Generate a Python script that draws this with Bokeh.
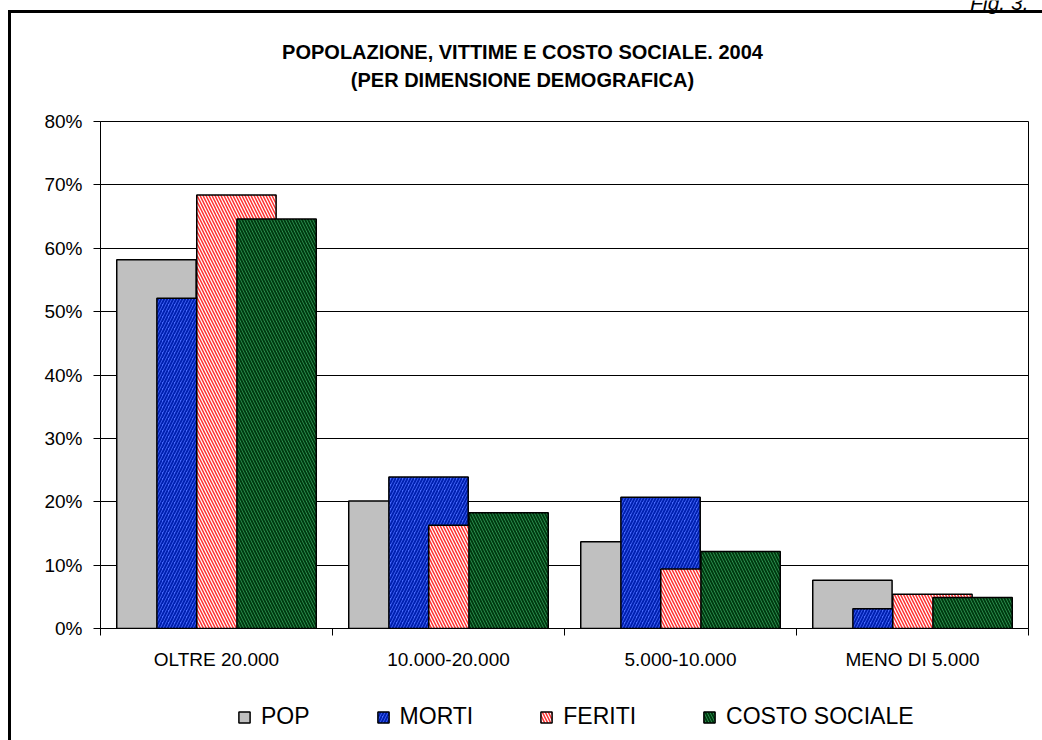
import numpy as np
from bokeh.plotting import figure
from bokeh.layouts import column
from bokeh.models import (FixedTicker, NumeralTickFormatter, Range1d, Label,
                          Legend, LegendItem)
from bokeh.embed import file_html
from bokeh.resources import INLINE

# ---- data ----
categories = ["OLTRE 20.000", "10.000-20.000", "5.000-10.000", "MENO DI 5.000"]
series_names = ["POP", "MORTI", "FERITI", "COSTO SOCIALE"]
pop = [0.582, 0.201, 0.137, 0.076]
morti = [0.521, 0.239, 0.207, 0.031]
feriti = [0.684, 0.163, 0.094, 0.054]
costo_sociale = [0.646, 0.1825, 0.1215, 0.049]
y_ticks = [0.0, 0.1, 0.2, 0.3, 0.4, 0.5, 0.6, 0.7, 0.8]
title_lines = ["POPOLAZIONE, VITTIME E COSTO SOCIALE. 2004",
               "(PER DIMENSIONE DEMOGRAFICA)"]
fig_label = "Fig. 3."

FONT = "Liberation Sans"
W = 1042
TOP_H, MAIN_H, LEG_H = 100, 574, 66
FRAME_LEFT = 100   # frames of the stacked figures are aligned on this x

styles = [
    dict(fill_color="#c0c0c0"),
    dict(fill_color="#4a6cff", hatch_pattern="right_diagonal_line",
         hatch_color="#0020b0", hatch_scale=6, hatch_weight=2),
    dict(fill_color="white", hatch_pattern="left_diagonal_line",
         hatch_color="#ff3030", hatch_scale=6, hatch_weight=1.5),
    dict(fill_color="#35a05c", hatch_pattern="left_diagonal_line",
         hatch_color="#003a10", hatch_scale=6, hatch_weight=2),
]
offsets = [-0.259, -0.086, 0.086, 0.259]
bar_w = 0.342
centers = np.arange(len(categories)) + 0.5
all_series = [pop, morti, feriti, costo_sociale]


def bare(height, xr, yr):
    f = figure(width=W, height=height, x_range=xr, y_range=yr,
               output_backend="svg", toolbar_location=None, title=None,
               x_axis_type=None, y_axis_type=None, min_border=0)
    f.min_border_left = f.min_border_right = 0
    f.min_border_top = f.min_border_bottom = 0
    f.background_fill_color = None
    f.border_fill_color = None
    f.outline_line_color = None
    return f


# ---------- top strip: figure label and two-line title ----------
top = bare(TOP_H, Range1d(0, W), Range1d(0, TOP_H))
top.add_layout(Label(x=1028 - FRAME_LEFT, y=TOP_H - 2, x_units="screen",
                     y_units="screen", text=fig_label, text_align="right",
                     text_baseline="alphabetic", text_color="black",
                     text_font=FONT, text_font_size="21px", text_font_style="italic"))
top.add_layout(Label(x=522 - FRAME_LEFT, y=TOP_H - 51, x_units="screen",
                     y_units="screen", text=title_lines[0], text_align="center",
                     text_baseline="alphabetic", text_font=FONT, text_color="black",
                     text_font_size="20px", text_font_style="bold"))
top.add_layout(Label(x=522 - FRAME_LEFT, y=TOP_H - 79, x_units="screen",
                     y_units="screen", text=title_lines[1], text_align="center",
                     text_baseline="alphabetic", text_font=FONT, text_color="black",
                     text_font_size="20px", text_font_style="bold"))

# ---------- main chart ----------
p = figure(width=W, height=MAIN_H, x_range=Range1d(0, len(categories)),
           y_range=Range1d(0, 0.8), output_backend="svg", toolbar_location=None,
           title=None, min_border_left=FRAME_LEFT, min_border_right=14,
           min_border_top=21, min_border_bottom=46)
p.background_fill_color = "white"
p.border_fill_color = None
p.outline_line_color = "black"
p.outline_line_width = 1

for vals, off, st in zip(all_series, offsets, styles):
    p.vbar(x=centers + off, top=vals, bottom=0, width=bar_w,
           line_color="black", line_width=1.5, **st)

p.yaxis.ticker = FixedTicker(ticks=y_ticks)
p.yaxis.formatter = NumeralTickFormatter(format="0%")
p.yaxis.major_label_text_font = FONT
p.yaxis.major_label_text_font_size = "19px"
p.yaxis.major_label_text_color = "black"
p.yaxis.major_tick_out = 7
p.yaxis.major_tick_in = 0
p.yaxis.minor_tick_line_color = None
p.yaxis.major_label_standoff = 11
p.yaxis.axis_line_color = "black"
p.yaxis.major_tick_line_color = "black"

p.xaxis.ticker = FixedTicker(ticks=list(centers),
                             minor_ticks=list(range(len(categories) + 1)))
p.xaxis.major_label_overrides = {float(c): lab for c, lab in zip(centers, categories)}
p.xaxis.major_label_text_font = FONT
p.xaxis.major_label_text_font_size = "19px"
p.xaxis.major_label_text_color = "black"
p.xaxis.major_tick_out = 0
p.xaxis.major_tick_in = 0
p.xaxis.minor_tick_out = 7
p.xaxis.minor_tick_in = 0
p.xaxis.minor_tick_line_color = "black"
p.xaxis.major_label_standoff = 13
p.xaxis.axis_line_color = "black"

p.xgrid.grid_line_color = None
p.ygrid.ticker = FixedTicker(ticks=y_ticks)
p.ygrid.grid_line_color = "black"
p.ygrid.grid_line_width = 1

# ---------- legend strip ----------
leg = bare(LEG_H, Range1d(0, len(categories)), Range1d(0, 0.8))
leg_renderers = []
for vals, off, st in zip(all_series, offsets, styles):
    r = leg.vbar(x=centers + off, top=vals, bottom=0, width=bar_w,
                 line_color="black", line_width=1.5, visible=False, **st)
    leg_renderers.append(r)

legend = Legend(items=[LegendItem(label=n, renderers=[r])
                       for n, r in zip(series_names, leg_renderers)],
                orientation="horizontal", location=(237 - FRAME_LEFT, 10),
                glyph_width=14, glyph_height=14, label_standoff=10,
                spacing=66, padding=0, margin=0,
                border_line_alpha=0, background_fill_alpha=0,
                inactive_fill_alpha=0,
                label_text_font=FONT, label_text_font_size="23px",
                label_text_color="black")
leg.add_layout(legend)

layout = column(top, p, leg, spacing=0, styles={
    "background": "linear-gradient(#000,#000) 8px 10px / 1040px 3px no-repeat, "
                  "linear-gradient(#000,#000) 8px 10px / 3px 740px no-repeat, #fff"})

open("out.html", "w").write(file_html(layout, INLINE))
